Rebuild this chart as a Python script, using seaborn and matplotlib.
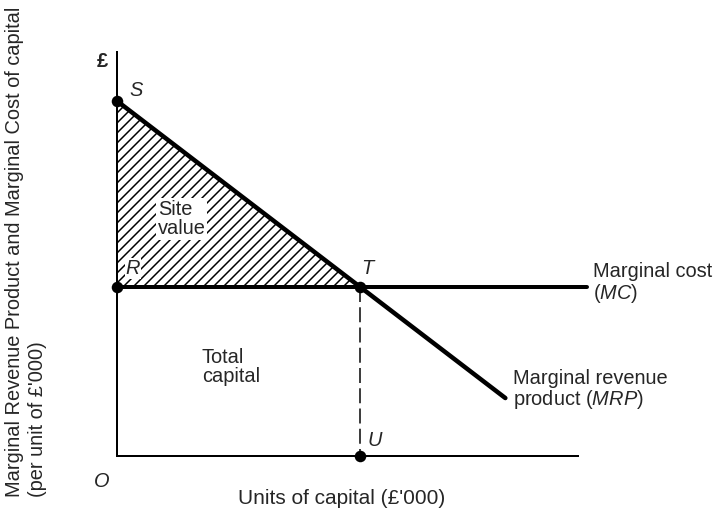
import numpy as np
import pandas as pd
import matplotlib
matplotlib.use('Agg')
import matplotlib.pyplot as plt
import seaborn as sns

# capital (x) and £ per unit of capital (y)
mrp_x = [0, 6, 9.6]
mrp_y = [10.5, 5.0, 1.7]
mc_x = [0, 11.62]
mc_y = [5.0, 5.0]
point_names = ['S', 'R', 'T', 'U']
point_x = [0, 0, 6, 6]
point_y = [10.5, 5.0, 5.0, 0]

sns.set_style('white')
plt.rcParams['font.family'] = ['Liberation Sans', 'DejaVu Sans']
plt.rcParams['mathtext.fontset'] = 'custom'
plt.rcParams['mathtext.rm'] = 'Liberation Sans'
plt.rcParams['mathtext.it'] = 'Liberation Sans:italic'
plt.rcParams['hatch.linewidth'] = 0.9

fs = 12
fig = plt.figure(figsize=(714 / 120, 511 / 120), dpi=120)
ax = fig.add_axes([0.1632, 0.1086, 0.6807, 0.7937])
ax.set_xlim(0, 12)
ax.set_ylim(0, 12)

mrp = pd.DataFrame({'x': mrp_x, 'y': mrp_y})
mc = pd.DataFrame({'x': mc_x, 'y': mc_y})
pts = pd.DataFrame({'name': point_names, 'x': point_x, 'y': point_y})

# hatched site value between MRP and MC up to T
ax.fill_between(mrp_x[:2], mrp_y[:2], mc_y[0], hatch='////', facecolor='none',
                edgecolor='black', linewidth=0, zorder=1)

sns.lineplot(data=mc, x='x', y='y', color='black', lw=2.4, ax=ax, zorder=3,
             clip_on=False)
sns.lineplot(data=mrp, x='x', y='y', color='black', lw=2.7, ax=ax, zorder=3,
             clip_on=False)
ax.plot([point_x[2], point_x[3]], [point_y[2], point_y[3]], color='black',
        lw=0.9, dashes=(10, 3.5), zorder=2)
sns.scatterplot(data=pts, x='x', y='y', color='black', s=48, ax=ax, zorder=5,
                edgecolor='black', linewidth=0, clip_on=False)

# axes
for side in ['top', 'right']:
    ax.spines[side].set_visible(False)
ax.spines['left'].set_bounds(0, 11.94)
ax.spines['bottom'].set_bounds(0, 11.4)
for side in ['left', 'bottom']:
    ax.spines[side].set_linewidth(1.2)
    ax.spines[side].set_color('black')
ax.set_xticks([])
ax.set_yticks([])
ax.set_xlabel('')
ax.set_ylabel('')

# point and region labels
ax.text(-0.36, 11.67, '£', fontsize=fs, fontweight='bold', ha='center', va='center')
ax.text(-0.37, -0.77, 'O', fontsize=fs, style='italic', ha='center', va='center')
label_pos = {'S': (0.48, 10.81), 'R': (0.41, 5.53), 'T': (6.19, 5.52), 'U': (6.38, 0.43)}
for name in point_names:
    lx, ly = label_pos[name]
    ax.text(lx, ly, name, fontsize=fs, style='italic', ha='center', va='center',
            zorder=6, bbox=dict(facecolor='white', edgecolor='none', pad=0.5)
            if name == 'R' else None)

ax.text(1.02, 7.0, 'Site\nvalue', fontsize=fs, ha='left', va='center',
        linespacing=1.05, zorder=6,
        bbox=dict(facecolor='white', edgecolor='none', pad=0.8))
ax.text(2.11, 2.62, 'Total\ncapital', fontsize=fs, ha='left', va='center',
        linespacing=1.05)
ax.text(11.77, 5.09, 'Marginal cost\n($\\mathit{MC}$)', fontsize=fs, ha='left',
        va='center', linespacing=1.05)
ax.text(9.79, 1.94, 'Marginal revenue\nproduct ($\\mathit{MRP}$)', fontsize=fs,
        ha='left', va='center', linespacing=1.05)

fig.text(0.479, 0.0254, "Units of capital (£'000)", fontsize=12.5, ha='center', va='center')
fig.text(0.021, 0.0274, 'Marginal Revenue Product and Marginal Cost of capital',
         fontsize=fs, rotation=90, ha='center', va='bottom')
fig.text(0.0532, 0.0274, "(per unit of £'000)", fontsize=fs, rotation=90,
         ha='center', va='bottom')

fig.savefig('out.png', dpi=120)
